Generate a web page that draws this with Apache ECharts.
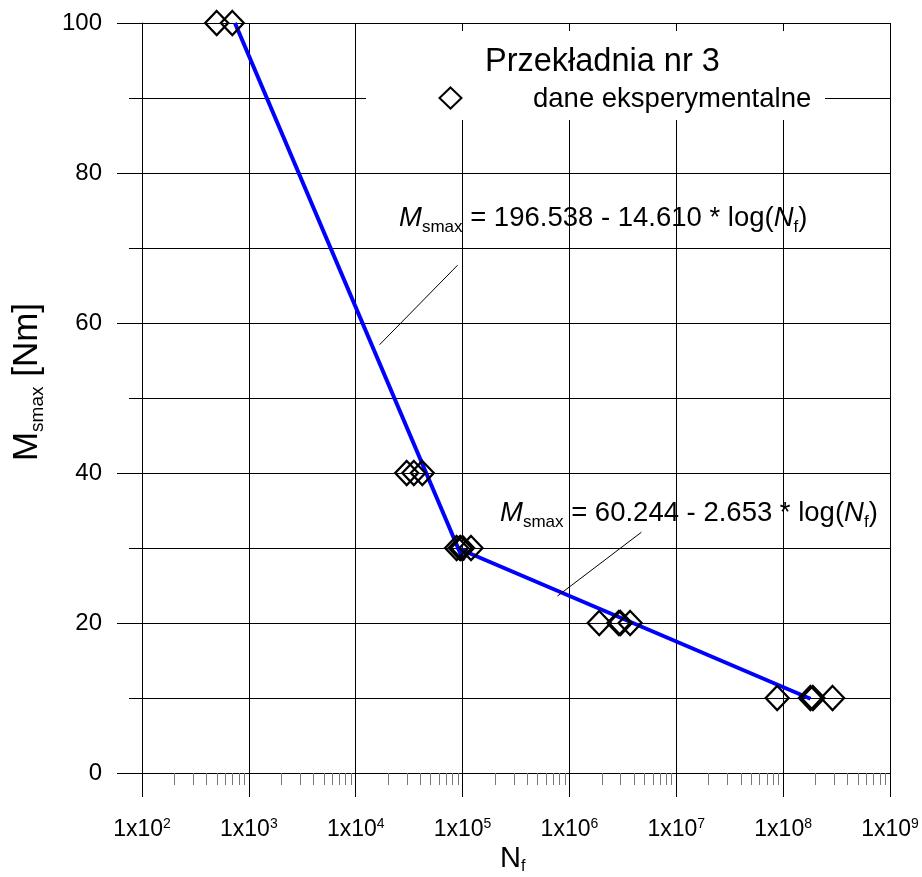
<!DOCTYPE html>
<html>
<head>
<meta charset="utf-8">
<script src="https://cdn.jsdelivr.net/npm/echarts@6/dist/echarts.min.js"></script>
<style>
  html, body { margin: 0; padding: 0; background: #fff; }
  #chart { width: 922px; height: 877px; }
</style>
</head>
<body>
<div id="chart"></div>
<script>
// test points
const testCycles = [500, 700, 30000, 35000, 42000, 88000, 95000, 100000, 120000,
  1.9e6, 2.9e6, 3.0e6, 3.7e6, 8.8e7, 1.8e8, 1.9e8, 2.9e8]
const testTorque = [100, 100, 40, 40, 40, 30, 30, 30, 30,
  20, 20, 20, 20, 10, 10, 10, 10]

// fitted lines (end points)
const fit1Cycles = [741, 102000]
const fit1Torque = [100, 28.3]
const fit2Cycles = [89000, 1.8e8]
const fit2Torque = [30, 9.9]

// leader lines of the two formulas
const leader1 = [[89700, 67.7], [16700, 57.1]]
const leader2 = [[4.71e6, 32.1], [7.73e5, 23.6]]

// minor ticks of the log axis
const decadeStarts = [1e2, 1e3, 1e4, 1e5, 1e6, 1e7, 1e8]
const minorSteps = [2, 3, 4, 5, 6, 7, 8, 9]

const font = "'Liberation Sans', Arial, sans-serif"

const zip = (xs, ys) => xs.map((x, i) => [x, ys[i]])
const minorTicks = []
decadeStarts.forEach(d => minorSteps.forEach(s => minorTicks.push([d * s, 0])))

const formulaRich = {
  i: { fontFamily: font, fontStyle: 'italic', fontSize: 27.5, lineHeight: 36, color: '#000' },
  n: { fontFamily: font, fontSize: 27.5, lineHeight: 36, color: '#000' },
  sub: { fontFamily: font, fontSize: 17, lineHeight: 14, verticalAlign: 'bottom', color: '#000' }
}

const chart = echarts.init(document.getElementById('chart'))
chart.setOption({
  animation: false,
  backgroundColor: '#fff',
  grid: { left: 142, right: 32, top: 23, bottom: 104, outerBoundsMode: 'none', containLabel: false },
  xAxis: {
    type: 'log',
    logBase: 10,
    min: 100,
    max: 1e9,
    axisLine: { show: true, lineStyle: { color: '#000', width: 1 } },
    axisTick: { show: true, length: 24, lineStyle: { color: '#000', width: 1 } },
    splitLine: { show: true, lineStyle: { color: '#000', width: 1 } },
    axisLabel: {
      margin: 44,
      formatter: v => '{b|1x10}{s|' + Math.round(Math.log10(v)) + '}',
      rich: {
        b: { fontFamily: font, fontSize: 23, lineHeight: 26, color: '#000' },
        s: { fontFamily: font, fontSize: 14, lineHeight: 12, verticalAlign: 'top', color: '#000' }
      }
    }
  },
  yAxis: {
    type: 'value',
    min: 0,
    max: 100,
    interval: 20,
    name: '{m|M}{sub|smax}{m| [Nm]}',
    nameLocation: 'middle',
    nameRotate: 90,
    nameGap: 95,
    nameMoveOverlap: false,
    nameTextStyle: {
      padding: [0, 0, 0, 32],
      rich: {
        m: { fontFamily: font, fontSize: 35, lineHeight: 40, color: '#000' },
        sub: { fontFamily: font, fontSize: 19, lineHeight: 16, verticalAlign: 'bottom', color: '#000' }
      }
    },
    axisLine: { show: true, lineStyle: { color: '#000', width: 1 } },
    axisTick: { show: true, length: 25, lineStyle: { color: '#000', width: 1 } },
    minorTick: { show: true, splitNumber: 2, length: 13, lineStyle: { color: '#000', width: 1 } },
    splitLine: { show: true, lineStyle: { color: '#000', width: 1 } },
    minorSplitLine: { show: true, lineStyle: { color: '#000', width: 1 } },
    axisLabel: { margin: 40, fontFamily: font, fontSize: 24, color: '#000' }
  },
  series: [
    {
      type: 'custom',
      silent: true,
      clip: false,
      data: minorTicks,
      renderItem: (params, api) => {
        const p = api.coord([api.value(0), api.value(1)])
        const x = Math.round(p[0]) + 0.5
        return {
          type: 'line',
          shape: { x1: x, y1: p[1], x2: x, y2: p[1] + 12 },
          style: { stroke: '#777', lineWidth: 1 }
        }
      }
    },
    {
      type: 'line',
      data: zip(fit1Cycles, fit1Torque),
      symbol: 'none',
      lineStyle: { color: '#0000ff', width: 4 },
      z: 3,
      markLine: {
        silent: true,
        symbol: ['none', 'none'],
        label: { show: false },
        lineStyle: { color: '#000', width: 1, type: 'solid' },
        data: [
          [{ coord: leader1[0] }, { coord: leader1[1] }],
          [{ coord: leader2[0] }, { coord: leader2[1] }]
        ]
      }
    },
    {
      type: 'line',
      data: zip(fit2Cycles, fit2Torque),
      symbol: 'none',
      lineStyle: { color: '#0000ff', width: 4 },
      z: 3
    },
    {
      type: 'scatter',
      data: zip(testCycles, testTorque),
      symbol: 'diamond',
      symbolSize: [23, 24],
      itemStyle: { color: 'rgba(0,0,0,0)', borderColor: '#000', borderWidth: 2.3, opacity: 1 },
      z: 4
    }
  ],
  graphic: [
    {
      type: 'rect',
      z: 100,
      shape: { x: 366, y: 31, width: 459, height: 89 },
      style: { fill: '#fff' }
    },
    {
      type: 'text',
      z: 101,
      style: {
        text: 'Przekładnia nr 3',
        x: 485, y: 62,
        verticalAlign: 'middle',
        fontFamily: font, fontSize: 32.5, fill: '#000'
      }
    },
    {
      type: 'polygon',
      z: 101,
      shape: { points: [[450.5, 87.5], [461.5, 98], [450.5, 108.5], [439.5, 98]] },
      style: { fill: 'none', stroke: '#000', lineWidth: 2 }
    },
    {
      type: 'text',
      z: 101,
      style: {
        text: 'dane eksperymentalne',
        x: 533, y: 99,
        verticalAlign: 'middle',
        fontFamily: font, fontSize: 27.5, fill: '#000'
      }
    },
    {
      type: 'text',
      z: 101,
      style: {
        text: '{i|M}{sub|smax}{n| = 196.538 - 14.610 * log(}{i|N}{sub|f}{n|)}',
        x: 399, y: 200,
        verticalAlign: 'top',
        rich: formulaRich
      }
    },
    {
      type: 'text',
      z: 101,
      style: {
        text: '{i|M}{sub|smax}{n| = 60.244 - 2.653 * log(}{i|N}{sub|f}{n|)}',
        x: 500, y: 495,
        verticalAlign: 'top',
        rich: formulaRich
      }
    },
    {
      type: 'text',
      z: 101,
      style: {
        text: '{n|N}{sub|f}',
        x: 500, y: 843,
        verticalAlign: 'top',
        rich: {
          n: { fontFamily: font, fontSize: 29, lineHeight: 32, color: '#000' },
          sub: { fontFamily: font, fontSize: 16, lineHeight: 12, verticalAlign: 'bottom', color: '#000' }
        }
      }
    }
  ]
})
</script>
</body>
</html>
